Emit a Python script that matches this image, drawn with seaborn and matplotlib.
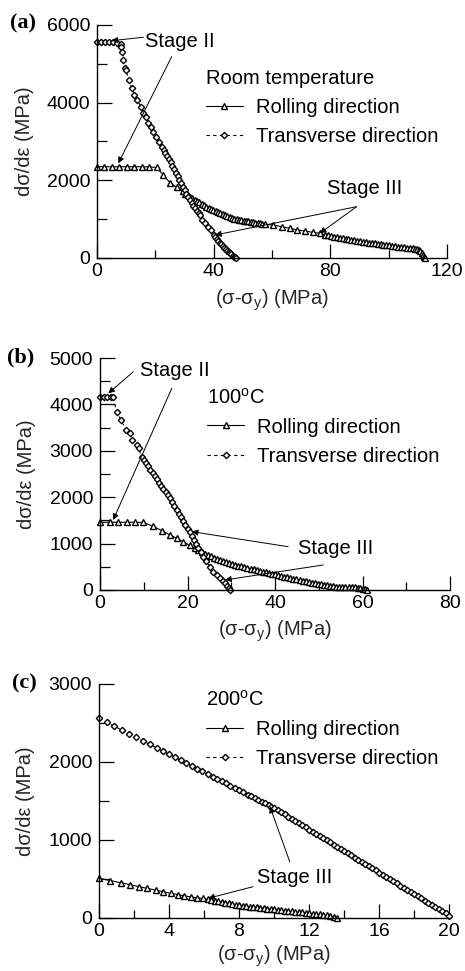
import numpy as np
import pandas as pd
import seaborn as sns
import matplotlib.pyplot as plt
from matplotlib.ticker import MultipleLocator

sns.set_style('ticks')
plt.rcParams['font.family'] = ['Liberation Sans', 'DejaVu Sans']
plt.rcParams['mathtext.fontset'] = 'custom'
plt.rcParams['mathtext.rm'] = 'Liberation Sans'
plt.rcParams['text.color'] = 'black'

# ---------------- (a) room temperature ----------------
a_roll_x = [0, 2.5, 5.0, 7.5, 10.2, 12.7, 15.4, 17.9, 20.5, 22.7, 25.0, 27.3,
            29.5, 30.3, 31.1, 31.9, 32.7, 33.5, 34.3, 35.1, 35.9, 36.7, 37.5, 38.3, 39.1, 39.9,
            40.7, 41.5, 42.3, 43.1, 43.9, 44.7, 45.5, 46.3, 47.1, 47.9, 48.7, 49.5, 50.3, 51.1,
            51.9, 52.7, 53.5, 54.3, 55.1, 55.9, 56.7, 57.5,
            60.4, 63.3, 66.2, 68.7, 71.3, 74.0, 76.5, 78.2,
            79.2, 80.2, 81.2, 82.2, 83.2, 84.2, 85.2, 86.2, 87.2, 88.2, 89.2, 90.2, 91.2, 92.2,
            93.2, 94.2, 95.2, 96.2, 97.2, 98.2, 99.2, 100.2, 101.2, 102.2, 103.2, 104.2, 105.2,
            106.2, 107.2, 108.2,
            109.0, 109.7, 110.3, 110.8, 111.3, 111.7, 112.1, 112.3]
a_roll_y = [2350, 2350, 2350, 2350, 2350, 2350, 2350, 2345, 2330, 2140, 1940, 1820,
            1720, 1660, 1610, 1570, 1540, 1505, 1470, 1435, 1400, 1365, 1325, 1295, 1265, 1235,
            1210, 1185, 1160, 1135, 1110, 1085, 1060, 1035, 1015, 1000, 985, 970, 960, 950,
            940, 930, 920, 910, 900, 890, 880, 870,
            850, 806, 764, 721, 695, 661, 635, 595,
            580, 565, 548, 533, 519, 505, 492, 480, 470, 460, 447, 433, 420, 408,
            397, 387, 376, 365, 354, 344, 335, 325, 315, 305, 295, 285, 275,
            266, 258, 250,
            240, 225, 205, 175, 125, 70, 20, 0]
a_trans_x = [0, 1.3, 2.8, 4.1, 5.6, 6.9, 8.1, 8.4, 8.7, 9.0, 9.5, 9.8, 11.0, 11.9, 12.8,
             13.8, 15.0, 15.9, 16.8, 17.6, 18.5, 19.3, 20.2, 21.1, 22.2,
             22.8, 23.4, 24.0, 24.6, 25.2, 25.8, 26.4, 27.0, 27.6, 28.2, 28.8, 29.4, 30.0,
             30.6, 31.2, 31.8, 32.4, 33.0, 33.6, 34.2, 34.8, 35.3,
             35.9, 37.0, 38.2, 39.0, 40.1,
             40.6, 41.1, 41.6, 42.1, 42.6, 43.1, 43.6, 44.1, 44.6, 45.1, 45.6, 46.1, 46.6,
             47.0, 47.4, 47.8]
a_trans_y = [5550, 5550, 5550, 5550, 5550, 5545, 5520, 5440, 5310, 5100, 4900, 4850, 4570,
             4370, 4200, 4070, 3900, 3740, 3620, 3480, 3365, 3250, 3125, 2995, 2865,
             2790, 2710, 2630, 2550, 2460, 2370, 2280, 2195, 2100, 2010, 1920, 1830, 1745,
             1655, 1570, 1490, 1420, 1345, 1275, 1210, 1150, 1100,
             980, 890, 805, 720, 590,
             540, 490, 440, 395, 350, 305, 265, 225, 190, 155, 120, 90, 60, 35, 15, 0]

# ---------------- (b) 100 C ----------------
b_roll_x = [0, 2.3, 4.2, 6.1, 8.0, 9.9, 12.2, 14.1, 16.0, 17.5, 19.0, 20.5, 21.8,
            22.5, 23.2, 23.9, 24.6, 25.3, 26.0, 26.7, 27.4, 28.1, 28.8, 29.5, 30.2, 30.9,
            31.6, 32.3, 33.0, 33.7, 34.4, 35.1, 35.8, 36.5, 37.2, 37.9, 38.6, 39.3, 40.0,
            40.7, 41.4, 42.1, 42.8, 43.5, 44.2, 44.9, 45.6, 46.3, 47.0, 47.7, 48.4, 49.1,
            49.8, 50.5, 51.2, 51.9, 52.6, 53.3, 54.0, 54.7, 55.4, 56.1, 56.8, 57.5, 58.2,
            58.9, 59.5, 60.0, 60.5, 61.0]
b_roll_y = [1460, 1460, 1460, 1460, 1460, 1455, 1370, 1280, 1185, 1115, 1040, 960, 895,
            860, 815, 780, 755, 725, 700, 672, 648, 625, 602, 580, 560, 545,
            525, 508, 490, 474, 458, 443, 427, 411, 396, 381, 365, 350, 334,
            318, 303, 287, 272, 257, 243, 229, 216, 203, 190, 175, 161, 147,
            134, 122, 110, 99, 89, 80, 73, 68, 64, 61, 59, 57, 54,
            48, 40, 30, 15, 0]
b_trans_x = [0, 0.8, 1.6, 2.4, 3.0, 3.8, 4.8, 5.9, 6.9, 7.4, 8.4, 8.8, 9.5,
             10.0, 10.5, 11.0, 11.5, 12.0, 12.5, 13.0, 13.5, 14.0, 14.5, 15.0, 15.5, 16.0,
             16.5, 17.0, 17.5, 18.0, 18.5, 19.0, 19.5, 20.0, 20.5, 21.0, 21.5, 22.0, 22.5,
             23.0, 23.6,
             24.3, 25.1, 25.9, 26.7, 27.4, 28.0, 28.6, 29.0, 29.4, 29.7]
b_trans_y = [4170, 4170, 4170, 4170, 4150, 3840, 3665, 3450, 3375, 3235, 3125, 3055, 2870,
             2800, 2735, 2665, 2595, 2525, 2455, 2385, 2315, 2245, 2180, 2110, 2045, 1975,
             1895, 1810, 1730, 1645, 1565, 1480, 1400, 1320, 1240, 1155, 1070, 985, 900,
             820, 720,
             615, 502, 395, 320, 251, 195, 144, 95, 45, 0]

# ---------------- (c) 200 C ----------------
c_roll_x = [0, 0.63, 1.24, 1.77, 2.3, 2.75, 3.24, 3.67, 4.1, 4.5, 4.87, 5.24, 5.58, 5.93, 6.2,
            6.4, 6.6, 6.8, 7.0, 7.2, 7.4, 7.6, 7.8, 8.0, 8.2, 8.4, 8.6, 8.8, 9.0, 9.2, 9.4,
            9.6, 9.8, 10.0, 10.2, 10.4, 10.6, 10.8, 11.0, 11.2, 11.4, 11.6, 11.8, 12.0,
            12.2, 12.4, 12.6, 12.8, 13.0, 13.2, 13.4, 13.6]
c_roll_y = [510, 480, 452, 427, 401, 380, 357, 336, 316, 300, 285, 270, 260, 250, 240,
            232, 224, 216, 207, 198, 190, 181, 172, 165, 158, 152, 146, 140, 135, 130, 125,
            120, 115, 110, 105, 100, 95, 90, 85, 80, 76, 71, 66, 61,
            56, 50, 45, 39, 32, 22, 10, 0]
c_trans_x = [0, 0.45, 0.85, 1.3, 1.7, 2.1, 2.5, 2.9, 3.3, 3.65, 4.0, 4.35, 4.7, 5.0, 5.3,
             5.6, 5.9, 6.2, 6.5, 6.75, 7.0, 7.25, 7.5, 7.75, 8.0, 8.25, 8.5, 8.7, 8.9, 9.1,
             9.3, 9.5, 9.7, 9.85,
             10.0, 10.2, 10.4, 10.6, 10.8, 11.0, 11.2, 11.4, 11.6, 11.8, 12.0, 12.2, 12.4,
             12.6, 12.8, 13.0, 13.2, 13.4, 13.6, 13.8, 14.0, 14.2, 14.4, 14.6, 14.8, 15.0,
             15.2, 15.4, 15.6, 15.8, 16.0, 16.2, 16.4, 16.6, 16.8, 17.0, 17.2, 17.4, 17.6,
             17.8, 18.0, 18.2, 18.4, 18.6, 18.8, 19.0, 19.2, 19.4, 19.6, 19.8, 20.0]
c_trans_y = [2560, 2508, 2462, 2410, 2364, 2318, 2272, 2226, 2180, 2140, 2100, 2060, 2019,
             1985, 1950, 1916, 1882, 1847, 1812, 1784, 1755, 1726, 1697, 1669, 1640, 1611,
             1582, 1560, 1536, 1514, 1490, 1468, 1444, 1427,
             1410, 1382, 1355, 1327, 1300, 1272, 1244, 1217, 1189, 1162, 1134, 1106, 1079,
             1051, 1024, 996, 968, 941, 913, 886, 858, 830, 803, 775, 748, 720,
             692, 665, 637, 610, 582, 554, 527, 499, 472, 444, 416, 389, 361,
             334, 306, 278, 251, 223, 196, 168, 140, 113, 85, 58, 30]

FS = 14.5
arrow = dict(arrowstyle='-|>', color='black', lw=0.7, shrinkA=0, shrinkB=0, mutation_scale=9)

fig = plt.figure(figsize=(4.65, 9.71), dpi=100)

panels = [
    dict(pos=[0.2086, 0.7343, 0.7527, 0.240], rx=a_roll_x, ry=a_roll_y, tx=a_trans_x, ty=a_trans_y,
         title='Room temperature', xlim=120, xmaj=40, xmin=20, ylim=6000, ymaj=2000, ymin=1000,
         leg=(0.31, 0.813), tag='(a)', tagpos=(0.021, 0.9763), ylab=-0.206, xlab=-0.18,
         notes=[('Stage II', (16.5, 5570), [((15.9, 5683), (5.0, 5595)), ((25.6, 5183), (7.3, 2438))]),
                ('Stage III', (78.9, 1777), [((89.0, 1321), (40.5, 592)), ((89.0, 1321), (76.4, 636))])]),
    dict(pos=[0.2151, 0.3924, 0.7527, 0.2389], rx=b_roll_x, ry=b_roll_y, tx=b_trans_x, ty=b_trans_y,
         title='100$^{\\mathrm{o}}$C', xlim=80, xmaj=20, xmin=10, ylim=5000, ymaj=1000, ymin=500,
         leg=(0.306, 0.873), tag='(b)', tagpos=(0.015, 0.6323), ylab=-0.209, xlab=-0.18,
         notes=[('Stage II', (9.1, 4741), [((7.6, 4704), (1.9, 4239)), ((16.4, 4346), (3.0, 1508))]),
                ('Stage III', (45.2, 899), [((43.0, 933), (21.0, 1257)), ((51.0, 539), (28.6, 216))])]),
    dict(pos=[0.2129, 0.0546, 0.7527, 0.2410], rx=c_roll_x, ry=c_roll_y, tx=c_trans_x, ty=c_trans_y,
         title='200$^{\\mathrm{o}}$C', xlim=20, xmaj=4, xmin=2, ylim=3000, ymaj=1000, ymin=500,
         leg=(0.306, 0.976), tag='(c)', tagpos=(0.026, 0.2956), ylab=-0.211, xlab=-0.162,
         notes=[('Stage III', (9.03, 513), [((10.9, 722), (9.77, 1427)), ((8.8, 401), (6.25, 253))])]),
]

for p in panels:
    ax = fig.add_axes(p['pos'])
    sns.lineplot(x=p['rx'], y=p['ry'], ax=ax, sort=False, estimator=None, color='black',
                 lw=0.8, marker='^', ms=4.4, mfc='white', mec='black', mew=1.0,
                 clip_on=False, label='Rolling direction')
    sns.lineplot(x=p['tx'], y=p['ty'], ax=ax, sort=False, estimator=None, color='black',
                 lw=0.8, marker='D', ms=3.2, mfc='white', mec='black', mew=1.0,
                 clip_on=False, label='Transverse direction')
    ax.lines[-1].set_dashes([3, 3])

    ax.set_xlim(0, p['xlim'])
    ax.set_ylim(0, p['ylim'])
    ax.xaxis.set_major_locator(MultipleLocator(p['xmaj']))
    ax.xaxis.set_minor_locator(MultipleLocator(p['xmin']))
    ax.yaxis.set_major_locator(MultipleLocator(p['ymaj']))
    ax.yaxis.set_minor_locator(MultipleLocator(p['ymin']))
    ax.tick_params(axis='both', which='both', direction='in', colors='black', labelsize=14,
                   width=0.9)
    ax.tick_params(axis='x', which='major', length=10, pad=3.5)
    ax.tick_params(axis='x', which='minor', length=6)
    ax.tick_params(axis='y', which='major', length=11, pad=5)
    ax.tick_params(axis='y', which='minor', length=7)
    sns.despine(ax=ax)
    for s in ['left', 'bottom']:
        ax.spines[s].set_linewidth(1.0)
        ax.spines[s].set_color('black')

    ax.set_xlabel('(σ-σ$_\\mathrm{y}$) (MPa)', fontsize=FS)
    ax.set_ylabel('dσ/dε (MPa)', fontsize=FS)
    ax.xaxis.set_label_coords(0.5, p['xlab'])
    ax.xaxis.label.set_va('center')
    ax.yaxis.set_label_coords(p['ylab'], 0.5)
    ax.yaxis.label.set_va('center')

    ax.legend(title=p['title'], loc='upper left', bbox_to_anchor=p['leg'], frameon=False,
              fontsize=FS, title_fontsize=FS, alignment='left', borderpad=0,
              borderaxespad=0, handlelength=1.85, handletextpad=0.65, labelspacing=0.5,
              numpoints=1)

    for label, tpos, arrows in p['notes']:
        ax.text(tpos[0], tpos[1], label, fontsize=FS, ha='left', va='center')
        for start, tip in arrows:
            ax.annotate('', xy=tip, xytext=start, arrowprops=arrow)

    fig.text(p['tagpos'][0], p['tagpos'][1], p['tag'], fontfamily='Liberation Serif',
             fontweight='bold', fontsize=16, ha='left', va='center')

plt.savefig('out.png', dpi=100)
